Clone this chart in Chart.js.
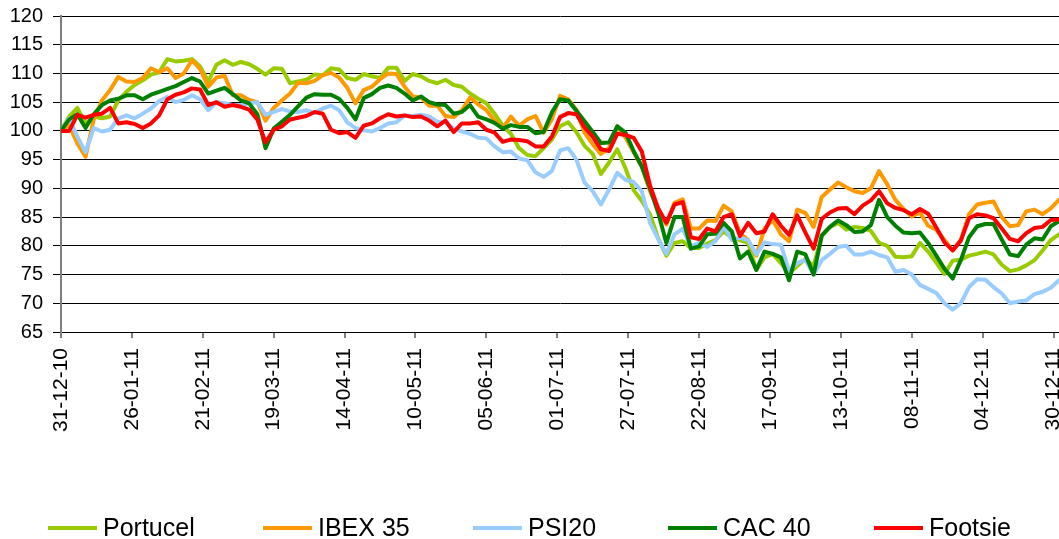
<!DOCTYPE html>
<html>
<head>
<meta charset="utf-8">
<script src="https://cdn.jsdelivr.net/npm/chart.js@4.4.1/dist/chart.umd.min.js"></script>
<style>
  html, body { margin: 0; padding: 0; background: #ffffff; }
  #wrap { width: 1059px; height: 539px; }
</style>
</head>
<body>
<div id="wrap"><canvas id="c" width="1059" height="539"></canvas></div>
<script>
// Days elapsed since 31-12-2010 for each sampled trading observation
const dayOffsets = [
  0, 3, 6, 9, 12, 15, 18, 21, 24, 27, 30, 33, 36, 39, 42, 45, 48, 51, 54, 57,
  60, 63, 66, 69, 72, 75, 78, 81, 84, 87, 90, 93, 96, 99, 102, 105, 108, 111, 114, 117,
  120, 123, 126, 129, 132, 135, 138, 141, 144, 147, 150, 153, 156, 159, 162, 165, 168, 171, 174, 177,
  180, 183, 186, 189, 192, 195, 198, 201, 204, 207, 210, 213, 216, 219, 222, 225, 228, 231, 234, 237,
  240, 243, 246, 249, 252, 255, 258, 261, 264, 267, 270, 273, 276, 279, 282, 285, 288, 291, 294, 297,
  300, 303, 306, 309, 312, 315, 318, 321, 324, 327, 330, 333, 336, 339, 342, 345, 348, 351, 354, 357,
  360, 363, 366
];

const portucel = [
  100, 102.5, 104, 101.2, 102.5, 102.2, 102.5, 105.3, 106.8, 108, 108.8, 109.8, 110.2, 112.5, 112.1, 112.2, 112.5, 111.2, 108.6, 111.5,
  112.3, 111.5, 112, 111.6, 110.8, 109.8, 110.9, 110.8, 108.3, 108.6, 108.9,
  109.8, 109.7, 110.9, 110.7, 109.2, 108.9, 109.9, 109.5, 109.2, 111, 111, 108.7, 109.9, 109.5, 108.7, 108.3, 108.9, 108, 107.7, 106.5,
  105.6, 104.8, 103, 100.9, 99.5, 97, 95.8, 95.6, 97, 98.5,
  100.8, 101.5, 99.8, 97.4, 96, 92.5, 94.5, 96.8, 93.5, 89.7, 87.8, 85.5, 81.3, 78.3, 80.5, 80.8, 79.6, 79.6, 80.4, 81,
  82.5, 81.4, 81, 80.5, 75.8, 78, 78.6, 77, 75.2, 76.5,
  77.7, 76.5, 81.7, 83.3, 84, 82.8, 83.3, 83.1, 82.6, 80.5, 80, 78.1, 78, 78.2, 80.5, 79, 77.1, 75.1, 77.4, 77.6,
  78.3, 78.6, 79, 78.5, 76.7, 75.6, 75.9, 76.6, 77.5, 79.2, 81, 82
];

const ibex35 = [
  100, 101, 97.8, 95.5, 102, 105.3, 107.1, 109.4, 108.6, 108.5, 109.2, 110.9, 110.2, 110.9, 109.2, 110, 112.3, 110.8, 107.7, 109.3,
  109.6, 106.2, 106.2, 105.4, 105, 101.8, 104, 105.3, 106.5, 108.4, 108.3,
  108.7, 109.7, 110.1, 109.3, 107.5, 104.8, 107.1, 107.7, 109, 110, 109.9, 107.7, 106, 105.8, 104.4, 104.4, 102.6, 102.4, 103.6, 105.8,
  104.6, 103.6, 101.8, 100.5, 102.5, 100.9, 102, 102.6, 99.7, 102,
  106.1, 105.5, 103.7, 99.7, 97.7, 96, 97, 100.8, 98.9, 96.3, 93.8, 89.5, 86.5, 83.7, 87.5, 88.1, 83, 83, 84.4, 84.3,
  87, 86, 82.2, 81, 78.3, 83, 84.5, 82, 80.8, 86.3,
  85.7, 83.3, 88.5, 89.8, 91, 90.2, 89.5, 89.2, 90, 93, 90.7, 88, 86.4, 85.1, 85.8, 83.5, 82.8, 81, 79.2, 81,
  85.5, 87.2, 87.5, 87.7, 85, 83.4, 83.6, 86, 86.3, 85.5, 86.5, 88
];

const psi20 = [
  100, 102.2, 99, 96.3, 100.5, 99.9, 100.2, 102.2, 102.7, 102.2, 103, 103.9, 105.2, 105.9, 105, 105.4, 106.2, 105.5, 103.6, 105,
  104.8, 104.5, 104.5, 104.8, 105, 102.8, 103.3, 103.8, 103.4, 103.3, 103.6,
  103.1, 103.9, 104.4, 103.6, 101.5, 100.5, 100.1, 99.9, 100.5, 101.3, 101.5, 102.7, 102.6, 102.8, 102.5, 101.6, 101.5, 100.4, 99.9, 99.5,
  98.8, 98.7, 97.3, 96.3, 96.4, 95.2, 94.9, 92.8, 92, 93,
  96.6, 97, 95, 91, 89.5, 87.2, 89.8, 92.7, 91.5, 91.1, 89.5, 84, 81.2, 78.6, 82, 83, 79.9, 80.5, 79.8, 80.8,
  83.4, 81, 81.4, 81, 78.5, 80.6, 80.3, 80.2, 75.6, 77,
  77.6, 75, 77.5, 78.6, 79.8, 80, 78.5, 78.5, 79, 78.4, 78, 75.5, 75.8, 75, 73.2, 72.5, 71.8, 70, 68.9, 70,
  72.8, 74.2, 74.1, 72.8, 71.7, 70, 70.3, 70.5, 71.6, 72, 72.7, 74
];

const cac40 = [
  100, 102, 102.9, 100.5, 102.9, 104.5, 105.3, 105.6, 106.2, 106.2, 105.5, 106.3, 106.8, 107.3, 107.8, 108.5, 109.2, 108.6, 106.5, 107,
  107.5, 106.4, 105.3, 104.8, 102.9, 97, 100.4, 101.6, 102.8, 104.3, 105.8,
  106.4, 106.3, 106.3, 105.6, 104, 102, 105.7, 106.4, 107.5, 107.9, 107.5, 106.5, 105.3, 106, 105, 104.6, 104.5, 103, 103.3, 104.5,
  102.5, 102, 101.4, 100.4, 101, 100.7, 100.7, 99.6, 99.8, 103.2,
  105.5, 105.3, 103.5, 101.7, 99.8, 97.9, 98, 100.8, 99.7, 96.5, 93.8, 90, 85.8, 80.5, 85, 85, 79.5, 79.9, 82, 82.1,
  84, 82.5, 77.8, 79, 75.8, 79, 78.6, 78, 74, 79,
  78.5, 75, 81.8, 83.3, 84.4, 83.6, 82.4, 82.5, 83.6, 88, 85, 83.5, 82.3, 82.2, 82.3, 80.5, 78.3, 76, 74.3, 77.5,
  81.5, 83.4, 83.8, 83.8, 81.1, 78.5, 78.2, 80.2, 81.3, 81.1, 83.4, 84.3
];

const footsie = [
  100, 100, 102.8, 102.3, 102.8, 103, 104, 101.3, 101.5, 101.2, 100.5, 101.3, 102.7, 105.5, 106.3, 106.7, 107.4, 107.2, 104.5, 105,
  104.2, 104.5, 104.2, 103.7, 102, 98, 100.2, 100.8, 102, 102.3, 102.6,
  103.3, 103, 100.2, 99.6, 99.8, 98.8, 100.9, 101.3, 102.2, 102.9, 102.5, 102.7, 102.4, 102.5, 101.8, 100.8, 101.8, 99.8, 101.3, 101.3,
  101.5, 100.2, 99.7, 98.1, 98.5, 98.4, 98.2, 97.3, 97.3, 99,
  102.4, 103.1, 102.9, 100.6, 99, 96.8, 96.5, 99.5, 99.3, 98.8, 96.4, 90.5, 86.5, 84, 87.2, 87.6, 81.5, 81.2, 83, 82.5,
  85, 85.5, 81.7, 84, 82.2, 82.5, 85.5, 83.5, 81.9, 85.3,
  82.3, 79.5, 84.7, 85.8, 86.5, 86.6, 85.5, 87, 87.9, 89.5, 87.4, 86.6, 86.2, 85.5, 86.4, 85.6, 83.2, 80.6, 79.2, 80.9,
  84.8, 85.5, 85.3, 84.8, 83, 81.2, 80.8, 82.2, 83.1, 83.3, 84.5, 84.6
];

const seriesNames = ['Portucel', 'IBEX 35', 'PSI20', 'CAC 40', 'Footsie'];
const seriesColors = ['#99CC00', '#FF9900', '#99CCFF', '#008000', '#FF0000'];

const tickDays = [0, 26, 52, 78, 104, 130, 156, 182, 208, 234, 260, 286, 312, 338, 364];
const tickLabels = ['31-12-10', '26-01-11', '21-02-11', '19-03-11', '14-04-11', '10-05-11', '05-06-11',
  '01-07-11', '27-07-11', '22-08-11', '17-09-11', '13-10-11', '08-11-11', '04-12-11', '30-12-11'];

const yTicks = { min: 65, max: 120, step: 5 };

const FONT = '"Liberation Sans", Arial, sans-serif';

function pts(values) {
  return dayOffsets.map((d, i) => ({ x: d, y: values[i] }));
}

const allSeries = [portucel, ibex35, psi20, cac40, footsie];
const datasets = allSeries.map((vals, i) => ({
  label: seriesNames[i],
  data: pts(vals),
  borderColor: seriesColors[i],
  backgroundColor: seriesColors[i],
  borderWidth: 4,
  pointRadius: 0,
  pointHoverRadius: 0,
  tension: 0,
  fill: false,
  borderJoinStyle: 'round',
  borderCapStyle: 'round',
  order: allSeries.length - i
}));

const legendStarts = [48, 263, 473, 668, 874];
const customLegend = {
  id: 'customLegend',
  afterDraw(chart) {
    const ctx = chart.ctx;
    ctx.save();
    chart.data.datasets.forEach((ds, i) => {
      const x0 = legendStarts[i];
      ctx.strokeStyle = ds.borderColor;
      ctx.lineWidth = 4;
      ctx.lineCap = 'butt';
      ctx.beginPath();
      ctx.moveTo(x0, 528);
      ctx.lineTo(x0 + 49, 528);
      ctx.stroke();
      ctx.fillStyle = '#000000';
      ctx.font = '25px ' + FONT;
      ctx.textBaseline = 'alphabetic';
      ctx.textAlign = 'left';
      ctx.fillText(ds.label, x0 + 55, 536);
    });
    ctx.restore();
  }
};

new Chart(document.getElementById('c'), {
  type: 'line',
  data: { datasets },
  plugins: [customLegend],
  options: {
    responsive: false,
    animation: false,
    devicePixelRatio: 1,
    layout: { padding: { top: 16, right: 0, bottom: 0, left: 0 } },
    plugins: {
      legend: { display: false },
      tooltip: { enabled: false },
      title: { display: false }
    },
    scales: {
      x: {
        type: 'linear',
        min: 0,
        max: 366,
        afterBuildTicks(axis) {
          axis.ticks = tickDays.map(v => ({ value: v }));
        },
        afterFit(scale) {
          scale.height = 207;
          scale.paddingLeft = 0;
          scale.paddingRight = 0;
        },
        ticks: {
          autoSkip: false,
          minRotation: 90,
          maxRotation: 90,
          padding: 10,
          color: '#000000',
          font: { family: FONT, size: 21 },
          callback(value) {
            const k = tickDays.indexOf(value);
            return k >= 0 ? tickLabels[k] : '';
          }
        },
        grid: {
          drawOnChartArea: false,
          drawTicks: true,
          tickLength: 6,
          color: '#808080',
          lineWidth: 2
        },
        border: { display: true, color: '#000000', width: 1 }
      },
      y: {
        type: 'linear',
        min: yTicks.min,
        max: yTicks.max,
        afterFit(scale) {
          scale.width = 61;
          scale.paddingTop = 0;
          scale.paddingBottom = 0;
        },
        ticks: {
          stepSize: yTicks.step,
          padding: 10,
          color: '#000000',
          font: { family: FONT, size: 20 }
        },
        grid: {
          color: '#000000',
          lineWidth: 1,
          tickLength: 8,
          drawTicks: true
        },
        border: { display: true, color: '#808080', width: 2 }
      }
    }
  }
});
</script>
</body>
</html>
